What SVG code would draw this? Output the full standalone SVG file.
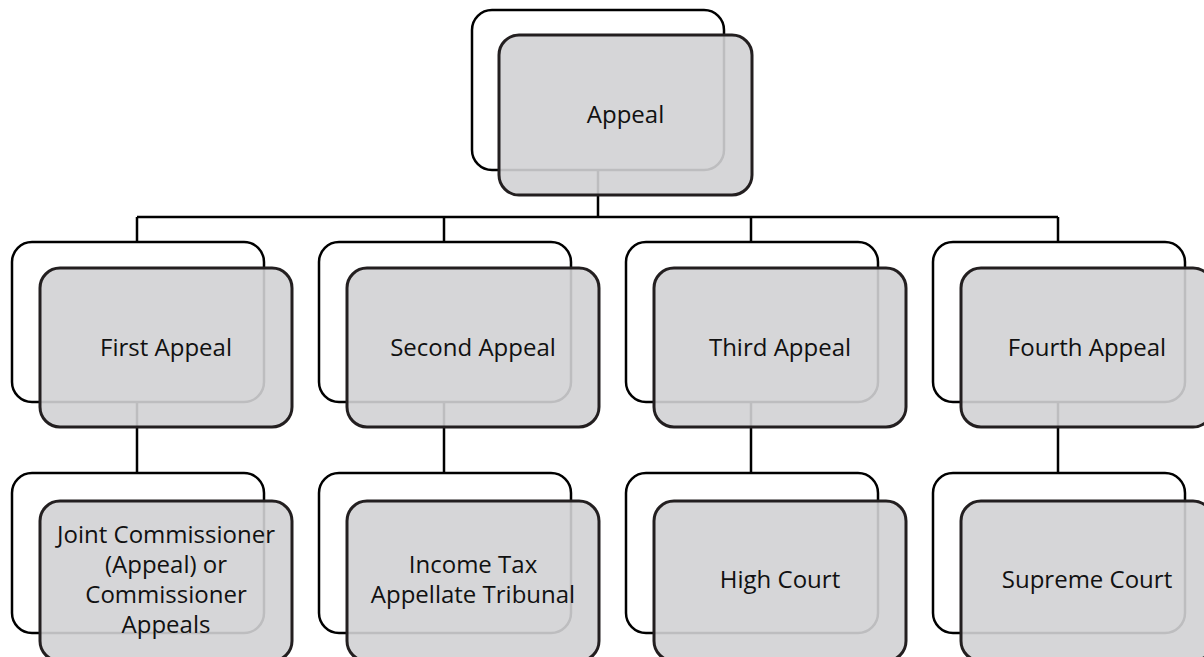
<svg xmlns="http://www.w3.org/2000/svg" width="1204" height="657" viewBox="0 0 1204 657">
<style>
.back{fill:#ffffff;stroke:#000000;stroke-width:2.5}
.front{fill:#d1d2d4;fill-opacity:0.9;stroke:#231f20;stroke-width:3}
.conn{fill:none;stroke:#000000;stroke-width:2.5}
text{font-family:"Open Sans","Noto Sans","Liberation Sans",sans-serif;font-size:24px;fill:#111111;text-anchor:middle}
</style>
<rect width="1204" height="657" fill="#ffffff"/>
<g id="connectors">
<path class="conn" d="M598,170V217M137,217H1058M137,217V242M444,217V242M751,217V242M1058,217V242"/>
<path class="conn" d="M137,402V473M444,402V473M751,402V473M1058,402V473"/>
</g>
<g id="appeal">
<rect class="back" x="472" y="10" width="252" height="160" rx="20"/>
<rect class="front" x="499" y="35" width="253" height="160" rx="20"/>
<text x="625.5" y="123">Appeal</text>
</g>
<g id="first-appeal">
<rect class="back" x="12" y="242" width="252" height="160" rx="20"/>
<rect class="front" x="40" y="268" width="252" height="159" rx="20"/>
<text x="166" y="356">First Appeal</text>
</g>
<g id="second-appeal">
<rect class="back" x="319" y="242" width="252" height="160" rx="20"/>
<rect class="front" x="347" y="268" width="252" height="159" rx="20"/>
<text x="473" y="356">Second Appeal</text>
</g>
<g id="third-appeal">
<rect class="back" x="626" y="242" width="252" height="160" rx="20"/>
<rect class="front" x="654" y="268" width="252" height="159" rx="20"/>
<text x="780" y="356">Third Appeal</text>
</g>
<g id="fourth-appeal">
<rect class="back" x="933" y="242" width="252" height="160" rx="20"/>
<rect class="front" x="961" y="268" width="252" height="159" rx="20"/>
<text x="1087" y="356">Fourth Appeal</text>
</g>
<g id="joint-commissioner">
<rect class="back" x="12" y="473" width="252" height="160" rx="20"/>
<rect class="front" x="40" y="501" width="252" height="160" rx="20"/>
<text x="166" y="543">Joint Commissioner</text>
<text x="166" y="573">(Appeal) or</text>
<text x="166" y="603">Commissioner</text>
<text x="166" y="633">Appeals</text>
</g>
<g id="itat">
<rect class="back" x="319" y="473" width="252" height="160" rx="20"/>
<rect class="front" x="347" y="501" width="252" height="160" rx="20"/>
<text x="473" y="573">Income Tax</text>
<text x="473" y="603">Appellate Tribunal</text>
</g>
<g id="high-court">
<rect class="back" x="626" y="473" width="252" height="160" rx="20"/>
<rect class="front" x="654" y="501" width="252" height="160" rx="20"/>
<text x="780" y="588">High Court</text>
</g>
<g id="supreme-court">
<rect class="back" x="933" y="473" width="252" height="160" rx="20"/>
<rect class="front" x="961" y="501" width="252" height="160" rx="20"/>
<text x="1087" y="588">Supreme Court</text>
</g>
</svg>
